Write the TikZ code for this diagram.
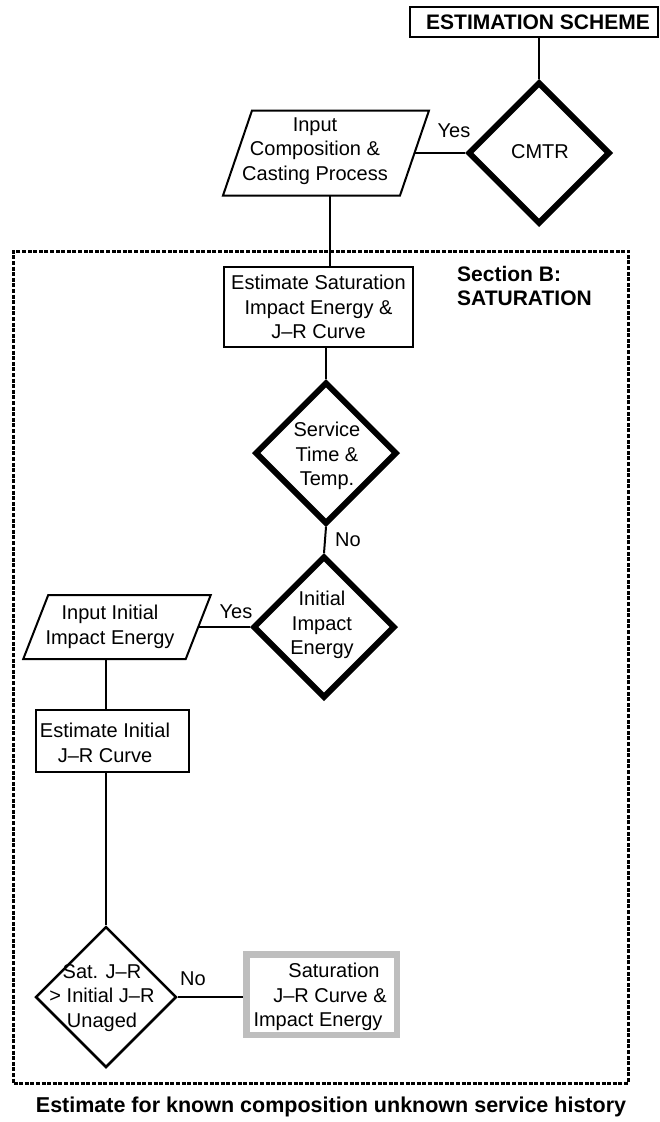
\documentclass[tikz,border=0pt]{standalone}
\usepackage{fontspec}
\setmainfont{Liberation Sans}
\usetikzlibrary{shapes.geometric,calc}
\definecolor{gbox}{RGB}{190,190,190}
\begin{document}
\begin{tikzpicture}[x=1pt,y=-1pt,
  txt/.style={font=\fontsize{20}{24.5}\selectfont, align=center, inner sep=0pt},
  btxt/.style={font=\bfseries\fontsize{21}{24}\selectfont, inner sep=0pt},
  boxn/.style={draw, line width=2pt, rectangle, inner sep=0pt},
  holder/.style={inner sep=0pt, outer sep=0pt},
  thickdia/.style={draw, line width=6pt, diamond, inner sep=0pt, miter limit=10,
    minimum width=142pt, minimum height=142pt},
  thindia/.style={draw, line width=2.5pt, diamond, inner sep=0pt,
    minimum width=141pt, minimum height=141pt},
  para/.style={line width=2pt, line join=miter},
  conn/.style={line width=2pt},
  section/.style={draw, line width=3pt, dash pattern=on 4pt off 1.6pt, inner sep=0pt},
  lab/.style={font=\fontsize{20}{24}\selectfont, inner sep=0pt}
]
\useasboundingbox (0,0) rectangle (659,1122);

% section B border
\node[section, minimum width=615pt, minimum height=832pt] (secb) at (321,667) {};
\node[btxt, align=left, anchor=north west] (secbt) at (457,266) {Section B:\\SATURATION};

% top
\node[boxn, minimum width=248pt, minimum height=30pt] (es) at (534,22) {};
\node[btxt] (est0) at (538,22) {ESTIMATION SCHEME};
\node[thickdia] (cmtr) at (539,153) {};
\node[txt] (cmtrt) at (540,152) {CMTR};

% input composition parallelogram
\node[holder, minimum width=177pt, minimum height=85pt] (inp) at (326,153) {};
\draw[para] ($(inp.south west)+(-14.5,0)$) -- ($(inp.north west)+(14.5,0)$)
  -- ($(inp.north east)+(14.5,0)$) -- ($(inp.south east)+(-14.5,0)$) -- cycle;
\node[txt] (inpt) at (315,151) {Input\\Composition \&\\Casting Process};

% estimate saturation
\node[boxn, minimum width=189pt, minimum height=80pt, txt, draw] (est) at (318.5,307)
  {Estimate Saturation\\Impact Energy \&\\J–R Curve};

% service diamond
\node[thickdia] (svc) at (326,453) {};
\node[txt] (svct) at (327,456) {Service\\Time \&\\Temp.};

% initial impact energy diamond
\node[thickdia] (ini) at (324,627) {};
\node[txt] (init) at (322,625) {Initial\\Impact\\Energy};

% input initial parallelogram
\node[holder, minimum width=162.5pt, minimum height=64pt] (ii) at (117,627) {};
\draw[para] ($(ii.south west)+(-12.5,0)$) -- ($(ii.north west)+(12.5,0)$)
  -- ($(ii.north east)+(12.5,0)$) -- ($(ii.south east)+(-12.5,0)$) -- cycle;
\node[txt] (iit) at (110,627) {Input Initial\\Impact Energy};

% estimate initial J-R
\node[boxn, minimum width=153pt, minimum height=62pt] (est2) at (112.5,741) {};
\node[txt] (est2t) at (105,743) {Estimate Initial\\J–R Curve};

% sat diamond
\node[thindia] (sat) at (106,997) {};
\node[txt] (satt) at (102,998) {Sat. J–R\\> Initial J–R\\Unaged};

% final gray box
\node[draw=gbox, line width=6.5pt, inner sep=0pt, minimum width=150.5pt, minimum height=80.5pt] (fin) at (321.5,994.5) {};
\node[txt] (fint) at (318,997) {\hspace*{32pt}Saturation\\\hspace*{24pt}J–R Curve \&\\Impact Energy};

% connectors
\draw[conn] (cmtr.north |- es.south) -- (cmtr.north);
\draw[conn] (inp.east) -- (cmtr.west);
\draw[conn] ([xshift=4pt]inp.south) -- ([xshift=4pt]inp.south |- est.north);
\draw[conn] (svc.north |- est.south) -- (svc.north);
\draw[conn] (svc.south) -- (ini.north);
\draw[conn] (ini.west) -- (ii.east);
\draw[conn] (sat.north |- ii.south) -- (sat.north |- est2.north);
\draw[conn] (sat.north |- est2.south) -- (sat.north);
\draw[conn] (sat.east) -- (sat.east -| fin.west);

% labels
\node[lab] (yes1) at (454,131) {Yes};
\node[lab] (no1) at (348,540) {No};
\node[lab] (yes2) at (236,612) {Yes};
\node[lab] (no2) at (193,979) {No};

% caption
\node[font=\bfseries\fontsize{21.5}{26}\selectfont, inner sep=0pt] (cap) at (331,1107)
  {Estimate for known composition unknown service history};
\end{tikzpicture}
\end{document}
